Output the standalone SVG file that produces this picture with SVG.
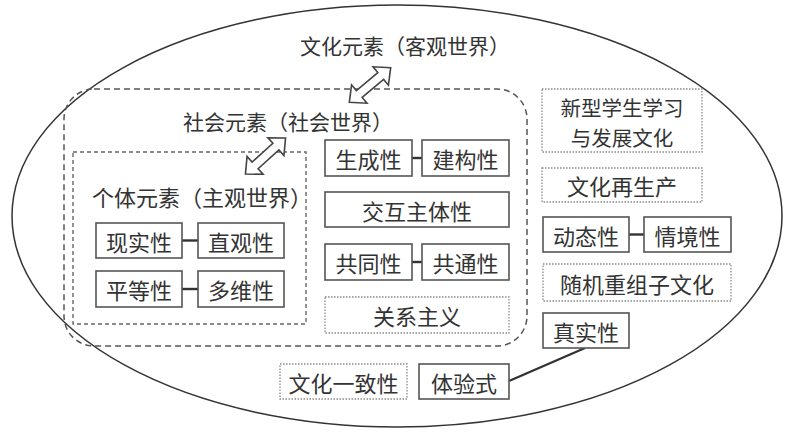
<svg xmlns="http://www.w3.org/2000/svg" width="789" height="432" viewBox="0 0 789 432">
<style>
.t{font-family:"Noto Sans CJK SC","Noto Sans CJK JP",sans-serif;font-size:22px;fill:#333;text-anchor:middle;dominant-baseline:central}
.h{font-family:"Noto Sans CJK SC","Noto Sans CJK JP",sans-serif;font-size:21px;fill:#333;dominant-baseline:central}
.b{fill:#fff;stroke:#555;stroke-width:1.6}
.d{fill:#fff;stroke:#8a8a8a;stroke-width:1.3;stroke-dasharray:1.5 1.5}
.c{stroke:#333;stroke-width:2.4;fill:none}
.ar{fill:#fff;stroke:#444;stroke-width:1.6;stroke-linejoin:miter}
</style>
<defs>
<polygon id="dbl" points="-27,0 -14,-12 -14,-4.5 14,-4.5 14,-12 27,0 14,12 14,4.5 -14,4.5 -14,12"/>
</defs>
<rect width="789" height="432" fill="#fff"/>
<g id="world">
<ellipse cx="397" cy="216" rx="385" ry="211" fill="none" stroke="#333" stroke-width="1.5"/>
<text class="h" x="300" y="45">文化元素（客观世界）</text>
</g>
<g id="social">
<rect x="64" y="89" width="463" height="257" rx="30" ry="30" fill="none" stroke="#555" stroke-width="1.5" stroke-dasharray="6 4"/>
<text class="h" x="183" y="121">社会元素（社会世界）</text>
</g>
<g id="individual">
<rect x="73" y="152" width="233" height="172" fill="none" stroke="#666" stroke-width="1.4" stroke-dasharray="4 3"/>
<text class="h" x="92" y="196" style="font-size:22px">个体元素（主观世界）</text>
</g>
<g id="connectors">
<line class="c" x1="182" y1="240.5" x2="198" y2="240.5"/>
<line class="c" x1="182" y1="289" x2="198" y2="289"/>
<line class="c" x1="412" y1="158" x2="422" y2="158"/>
<line class="c" x1="412" y1="262" x2="422" y2="262"/>
<line class="c" x1="629" y1="234.5" x2="644" y2="234.5"/>
<line class="c" x1="509" y1="381" x2="585" y2="348" stroke-width="2"/>
<use href="#dbl" class="ar" transform="translate(370 85) rotate(-40)"/>
<use href="#dbl" class="ar" transform="translate(265.5 156) rotate(-42)"/>
</g>
<g id="n-xianshi"><rect class="b" x="96" y="223" width="86" height="35"/><text class="t" x="139" y="240.5">现实性</text></g>
<g id="n-zhiguan"><rect class="b" x="198" y="223" width="86" height="35"/><text class="t" x="241" y="240.5">直观性</text></g>
<g id="n-pingdeng"><rect class="b" x="96" y="271" width="86" height="36"/><text class="t" x="139" y="289">平等性</text></g>
<g id="n-duowei"><rect class="b" x="198" y="271" width="86" height="36"/><text class="t" x="241" y="289">多维性</text></g>
<g id="n-shengcheng"><rect class="b" x="325" y="140" width="87" height="36"/><text class="t" x="368.5" y="158">生成性</text></g>
<g id="n-jiangou"><rect class="b" x="422" y="140" width="87" height="36"/><text class="t" x="465.5" y="158">建构性</text></g>
<g id="n-jiaohu"><rect class="b" x="325" y="192" width="184" height="35"/><text class="t" x="417" y="209.5">交互主体性</text></g>
<g id="n-gongtong"><rect class="b" x="325" y="244" width="87" height="36"/><text class="t" x="368.5" y="262">共同性</text></g>
<g id="n-gongtong2"><rect class="b" x="422" y="244" width="87" height="36"/><text class="t" x="465.5" y="262">共通性</text></g>
<g id="n-guanxi"><rect class="d" x="325" y="297" width="184" height="36"/><text class="t" x="417" y="315">关系主义</text></g>
<g id="n-xinxing"><rect class="d" x="542" y="89" width="160" height="63"/><text class="t" style="font-size:20.5px"><tspan x="622" y="107">新型学生学习</tspan><tspan x="622" y="137">与发展文化</tspan></text></g>
<g id="n-zaishengchan"><rect class="d" x="542" y="168" width="160" height="34"/><text class="t" x="622" y="185">文化再生产</text></g>
<g id="n-dongtai"><rect class="b" x="543" y="217" width="86" height="35"/><text class="t" x="586" y="234.5">动态性</text></g>
<g id="n-qingjing"><rect class="b" x="644" y="217" width="87" height="35"/><text class="t" x="687.5" y="234.5">情境性</text></g>
<g id="n-suiji"><rect class="d" x="543" y="264" width="188" height="37"/><text class="t" x="637" y="282.5">随机重组子文化</text></g>
<g id="n-zhenshi"><rect class="b" x="543" y="313" width="86" height="35"/><text class="t" x="586" y="330.5">真实性</text></g>
<g id="n-tiyan"><rect class="b" x="419" y="364" width="90" height="35"/><text class="t" x="464" y="381.5">体验式</text></g>
<g id="n-yizhi"><rect class="d" x="280" y="364" width="127" height="35"/><text class="t" x="343.5" y="381.5">文化一致性</text></g>
</svg>
